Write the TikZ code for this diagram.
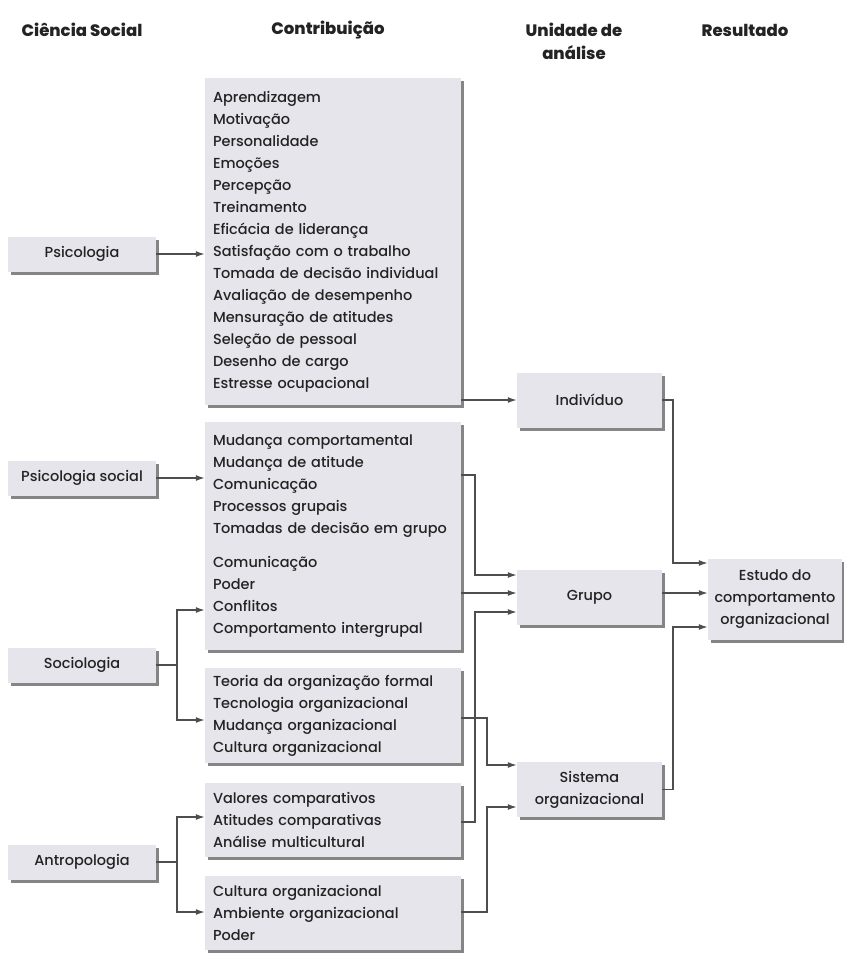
\documentclass[tikz,border=0pt]{standalone}
\usepackage{fontspec}
\setmainfont{Poppins}[UprightFont=* Medium, BoldFont=* ExtraBold]
\usetikzlibrary{arrows.meta,shadows}
\definecolor{boxgray}{RGB}{231,229,236}
\definecolor{linegray}{RGB}{78,78,78}
\definecolor{inkgray}{RGB}{35,35,35}
\begin{document}
\begin{tikzpicture}[x=1pt,y=-1pt,
  font=\fontsize{14.5}{22}\selectfont, text=inkgray,
  head/.style={font=\fontsize{16.5}{23}\selectfont\bfseries, align=center},
  box/.style={fill=boxgray, inner sep=0pt,
    drop shadow={shadow xshift=3pt, shadow yshift=-3pt, fill=black!60, opacity=0.8}},
  srcbox/.style={box, minimum width=148, minimum height=35},
  listbox/.style={box, inner xsep=8pt, text width=240, align=left},
  unitbox/.style={box, minimum width=145, minimum height=55, align=center},
  conn/.style={->, >={Latex[length=9pt,width=6pt]}, line width=1.3pt, linegray}]

\useasboundingbox (0,0) rectangle (844,954);

% Headers
  \foreach \x/\htext in {82/{Ciência Social}, 328/{Contribuição}, 745/{Resultado}}
  \node[head] (head\x) at (\x,30) {\htext};
  \node[head] (headunit) at (574,41.5) {Unidade de\\análise};

% Social sciences
  \foreach \y/\name/\stext in {254/psicologia/Psicologia, 478/psicsocial/{Psicologia social}, 665/sociologia/Sociologia, 862/antropologia/Antropologia}
  \node[srcbox] (\name) at (82,\y) {\stext};

% Contributions
  \node[listbox, minimum height=327] (psicbox) at (333,241.5) {Aprendizagem\\Motivação\\Personalidade\\Emoções\\Percepção\\Treinamento\\Eficácia de liderança\\Satisfação com o trabalho\\Tomada de decisão individual\\Avaliação de desempenho\\Mensuração de atitudes\\Seleção de pessoal\\Desenho de cargo\\Estresse ocupacional};
  \node[listbox, minimum height=228] (socbox) at (333,536) {Mudança comportamental\\Mudança de atitude\\Comunicação\\Processos grupais\\Tomadas de decisão em grupo\\[12pt]Comunicação\\Poder\\Conflitos\\Comportamento intergrupal};
  \node[listbox, minimum height=95] (teoriabox) at (333,715.5) {Teoria da organização formal\\Tecnologia organizacional\\Mudança organizacional\\Cultura organizacional};
  \node[listbox, minimum height=74] (valoresbox) at (333,820) {Valores comparativos\\Atitudes comparativas\\Análise multicultural};
  \node[listbox, minimum height=74] (culturabox) at (333,913) {Cultura organizacional\\Ambiente organizacional\\Poder};

% Units of analysis and result
  \node[unitbox] (individuo) at (589.5,400) {Indivíduo};
  \node[unitbox] (grupo) at (589.5,597.5) {Grupo};
  \node[unitbox] (sistema) at (589.5,789.5) {Sistema\\organizacional};
  \node[box, minimum width=134, minimum height=81, align=center] (estudo) at (775,599.5) {Estudo do\\comportamento\\organizacional};

% Junction columns
  \coordinate (jl) at (177,0);
  \coordinate (jg) at (475,0);
  \coordinate (js) at (487,0);
  \coordinate (je) at (673,0);

% Arrows into the contributions
  \draw[conn] (psicologia.east) -- (psicologia.east -| psicbox.west);
  \draw[conn] (psicsocial.east) -- (psicsocial.east -| socbox.west);
  \draw[conn] (sociologia.east) -- (jl |- sociologia) |- (socbox.west |- 0,610);
  \draw[conn] (jl |- sociologia) |- (teoriabox.west |- 0,720);
  \draw[conn] (antropologia.east) -- (jl |- antropologia) |- (valoresbox.west |- 0,817);
  \draw[conn] (jl |- antropologia) |- (culturabox.west |- 0,912);

% Arrows into the units
  \draw[conn] (individuo.west -| psicbox.east) -- (individuo.west);
  \draw[conn] (socbox.east |- 0,475) -- (jg |- 0,475) |- ([yshift=22.5pt]grupo.west);
  \draw[conn] ([yshift=4.5pt]grupo.west -| socbox.east) -- ([yshift=4.5pt]grupo.west);
  \draw[conn] (valoresbox.east |- 0,822) -- (jg |- 0,822) |- ([yshift=-14.5pt]grupo.west);
  \draw[conn] (teoriabox.east |- 0,718) -- (js |- 0,718) |- ([yshift=24.5pt]sistema.west);
  \draw[conn] (culturabox.east |- 0,912) -- (js |- 0,912) |- ([yshift=-17.5pt]sistema.west);

% Arrows into the result
  \draw[conn] (individuo.east) -- (je |- individuo) |- ([yshift=36.5pt]estudo.west);
  \draw[conn] ([yshift=4.5pt]grupo.east) -- ([yshift=4.5pt]grupo.east -| estudo.west);
  \draw[conn] (sistema.east) -- (je |- sistema) |- ([yshift=-27.5pt]estudo.west);

\end{tikzpicture}
\end{document}
